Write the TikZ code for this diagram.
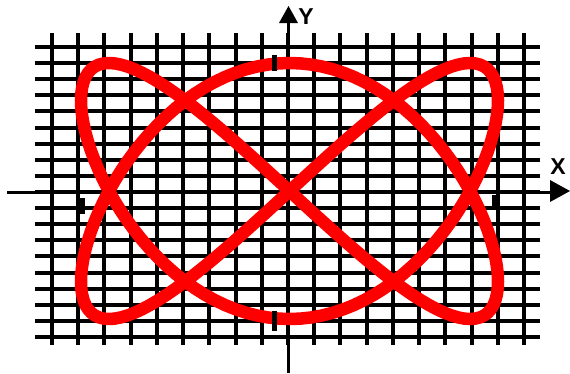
\documentclass[tikz,border=0pt]{standalone}
\usepackage{fontspec}
\setmainfont{Liberation Sans}
\begin{document}
\begin{tikzpicture}[x=1pt,y=-1pt,
  gridline/.style={line width=4pt, black},
  axisline/.style={line width=3pt, black},
  curve/.style={red, line width=12.5pt, line join=round},
  tickmark/.style={fill=black},
  axlabel/.style={font=\fontsize{23}{23}\selectfont\bfseries, inner sep=0pt}]
\useasboundingbox (0,0) rectangle (570,373);
\fill[white] (0,0) rectangle (570,373);
% grid
\foreach \i in {0,...,18} \draw[gridline] ({52+\i*26.222},33) -- ({52+\i*26.222},345);
\foreach \j in {0,...,18} \draw[gridline] (35,{47+\j*16.111}) -- (540,{47+\j*16.111});
% axes
\coordinate (xs) at (7,192);
\coordinate (xe) at (552,192);
\coordinate (ys) at (288.5,373);
\coordinate (ye) at (288.5,22);
\draw[axisline] (xs) -- (xe);
\fill (570,191) -- (550,180) -- (550,202) -- cycle;
\draw[axisline] (ys) -- (ye);
\fill (288.5,6) -- (279,23) -- (298,23) -- cycle;
% curve
\draw[curve] plot[domain=0:360, samples=241, variable=\t] ({289.5+208.5*sin(2*\t)}, {191-128*sin(3*\t)}) -- cycle;
% ticks
\fill[tickmark] (272,55) rectangle (277,71);
\fill[tickmark] (272,311) rectangle (277,331);
\fill[tickmark] (79,198) rectangle (85,214);
\fill[tickmark] (492,195) rectangle (498,207);
% labels
\node[axlabel] (ylab) at (306,17) {Y};
\node[axlabel] (xlab) at (558,167) {X};
\end{tikzpicture}
\end{document}
